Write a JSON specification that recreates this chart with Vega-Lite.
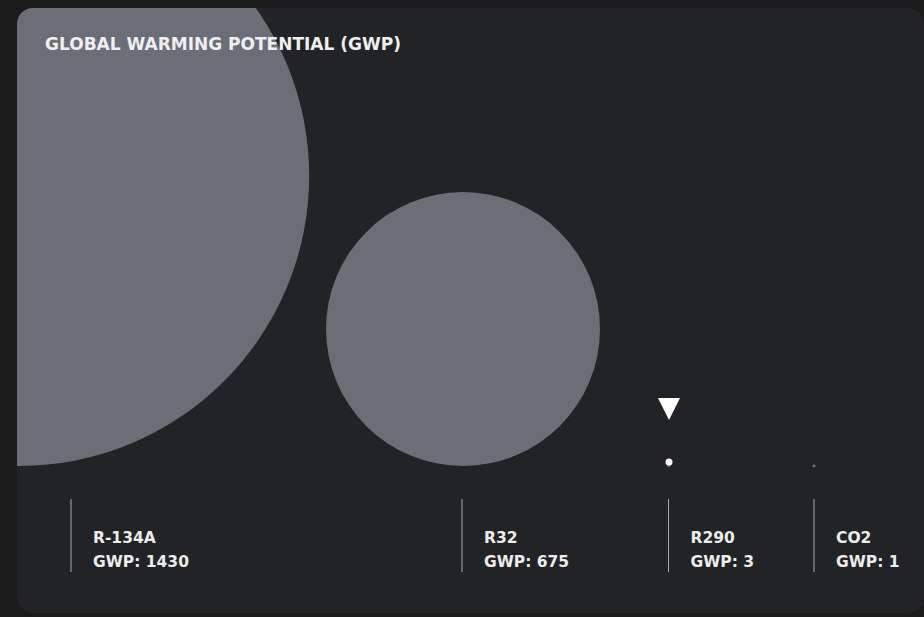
{
  "$schema": "https://vega.github.io/schema/vega-lite/v6.json",
  "width": 907,
  "height": 605,
  "autosize": {"type": "none"},
  "padding": {"left": 17, "top": 8, "right": 0, "bottom": 4},
  "background": "#1b1b1c",
  "view": {"fill": "#222326", "stroke": null, "cornerRadius": 16},
  "title": {
    "text": "GLOBAL WARMING POTENTIAL (GWP)",
    "anchor": "start",
    "frame": "group",
    "dx": 28,
    "offset": -59,
    "baseline": "alphabetic",
    "font": "DejaVu Sans",
    "fontSize": 17,
    "fontWeight": "bold",
    "color": "#efefef"
  },
  "data": {
    "values": [
      {"refrigerant": "R-134A", "gwp": 1430},
      {"refrigerant": "R32", "gwp": 675},
      {"refrigerant": "R290", "gwp": 3},
      {"refrigerant": "CO2", "gwp": 1}
    ]
  },
  "layer": [
    {
      "layer": [
        {
          "mark": {"type": "circle", "clip": true, "color": "#6b6e76", "opacity": 1},
          "encoding": {
            "x": {"field": "gwp", "type": "quantitative", "scale": {"domain": [1, 3, 675, 1430], "range": [797, 652, 446, 2], "nice": false, "zero": false}, "axis": null},
            "y": {"field": "gwp", "type": "quantitative", "scale": {"domain": [0, 1430], "range": [458, 167.8], "nice": false, "zero": false}, "axis": null},
            "size": {"field": "gwp", "type": "quantitative", "scale": {"type": "pow", "exponent": 2, "domain": [0, 1430], "range": [9, 336864]}, "legend": null}
          }
        },
        {
          "transform": [{"filter": "datum.refrigerant === 'R290'"}],
          "mark": {"type": "circle", "color": "#ffffff", "opacity": 1, "size": 49, "yOffset": -3.4},
          "encoding": {
            "x": {"field": "gwp", "type": "quantitative"},
            "y": {"field": "gwp", "type": "quantitative"}
          }
        },
        {
          "transform": [{"filter": "datum.refrigerant === 'R290'"}],
          "mark": {"type": "point", "shape": "M-1,-1L1,-1L0,1Z", "filled": true, "color": "#ffffff", "opacity": 1, "size": 484, "yOffset": -56.4},
          "encoding": {
            "x": {"field": "gwp", "type": "quantitative"},
            "y": {"field": "gwp", "type": "quantitative"}
          }
        }
      ]
    },
    {
      "layer": [
        {
          "mark": {"type": "rule", "color": "#a9a9a9", "strokeWidth": 1},
          "encoding": {
            "x": {"field": "gwp", "type": "quantitative", "scale": {"domain": [1, 3, 675, 1430], "range": [797, 651.5, 445, 54], "nice": false, "zero": false}, "axis": null},
            "y": {"value": 491},
            "y2": {"value": 564}
          }
        },
        {
          "mark": {"type": "text", "align": "left", "baseline": "alphabetic", "dx": 22, "font": "DejaVu Sans", "fontSize": 15.5, "fontWeight": "bold", "color": "#ececec"},
          "encoding": {
            "x": {"field": "gwp", "type": "quantitative"},
            "y": {"value": 534.5},
            "text": {"field": "refrigerant"}
          }
        },
        {
          "mark": {"type": "text", "align": "left", "baseline": "alphabetic", "dx": 22, "font": "DejaVu Sans", "fontSize": 15.5, "fontWeight": "bold", "color": "#ececec", "text": {"expr": "'GWP: ' + datum.gwp"}},
          "encoding": {
            "x": {"field": "gwp", "type": "quantitative"},
            "y": {"value": 558.5}
          }
        }
      ]
    }
  ],
  "resolve": {"scale": {"x": "independent"}}
}
